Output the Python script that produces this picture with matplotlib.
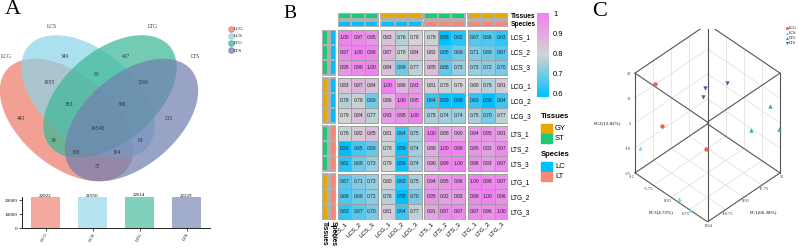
import numpy as np
import matplotlib
matplotlib.use("Agg")
import matplotlib.pyplot as plt
from matplotlib.patches import Ellipse, Rectangle
from matplotlib.colors import LinearSegmentedColormap, ListedColormap, Normalize
from matplotlib.lines import Line2D
from matplotlib.transforms import ScaledTranslation
import matplotlib.cm as cm
from mpl_toolkits.mplot3d import proj3d

W, H = 798, 248
SERIF = "Liberation Serif"
SANS = "Liberation Sans"

# ---- panel A data
sets = ["LCG", "LCS", "LTG", "LTS"]
set_colors = ["#EE7B6A", "#8ED4E8", "#3DB897", "#7180B0"]
set_totals = [22022, 21950, 22614, 22229]
# order: LCG, LCS, LTG, LTS only; LCG&LCS; LCS&LTG; LTG&LTS; LCG&LCS&LTG; LCS&LTG&LTS;
# all; LCG&LTG; LCS&LTS; LCG&LTG&LTS; LCG&LCS&LTS; LCG&LTS
venn_counts = [443, 349, 417, 215, 1955, 80, 2366, 383, 388, 10548, 54, 63, 388, 194, 57]

# ---- panel B data
samples = ["LCS_1", "LCS_2", "LCS_3", "LCG_1", "LCG_2", "LCG_3",
           "LTS_1", "LTS_2", "LTS_3", "LTG_1", "LTG_2", "LTG_3"]
tissues = ["ST"] * 3 + ["GY"] * 3 + ["ST"] * 3 + ["GY"] * 3
species = ["LC"] * 6 + ["LT"] * 6
corr = np.array([
    [1.00, 0.97, 0.95, 0.83, 0.76, 0.79, 0.78, 0.58, 0.62, 0.67, 0.66, 0.63],
    [0.97, 1.00, 0.98, 0.87, 0.78, 0.84, 0.82, 0.65, 0.69, 0.71, 0.69, 0.67],
    [0.95, 0.98, 1.00, 0.84, 0.69, 0.77, 0.85, 0.68, 0.73, 0.73, 0.72, 0.70],
    [0.83, 0.87, 0.84, 1.00, 0.86, 0.93, 0.81, 0.78, 0.79, 0.80, 0.76, 0.81],
    [0.76, 0.78, 0.69, 0.86, 1.00, 0.95, 0.64, 0.59, 0.59, 0.63, 0.58, 0.64],
    [0.79, 0.84, 0.77, 0.93, 0.95, 1.00, 0.75, 0.74, 0.74, 0.75, 0.70, 0.77],
    [0.78, 0.82, 0.85, 0.81, 0.64, 0.75, 1.00, 0.88, 0.90, 0.94, 0.95, 0.91],
    [0.58, 0.65, 0.68, 0.78, 0.59, 0.74, 0.88, 1.00, 0.99, 0.95, 0.92, 0.97],
    [0.62, 0.69, 0.73, 0.79, 0.59, 0.74, 0.90, 0.99, 1.00, 0.96, 0.93, 0.97],
    [0.67, 0.71, 0.73, 0.80, 0.63, 0.75, 0.94, 0.95, 0.96, 1.00, 0.98, 0.97],
    [0.66, 0.69, 0.72, 0.76, 0.58, 0.70, 0.95, 0.92, 0.93, 0.98, 1.00, 0.96],
    [0.63, 0.67, 0.70, 0.81, 0.64, 0.77, 0.91, 0.97, 0.97, 0.97, 0.96, 1.00],
])

# ---- panel C data
pca_groups = ["LCG", "LCS", "LTG", "LTS"]
pca_colors = ["#F0624F", "#7FD3EA", "#2BB592", "#4F5F9A"]
pca_markers = ["o", "^", "^", "v"]
pc1 = [[-21.9, -22.1, -7.8], [-30.5, -33.3, -33.7], [32.2, 28.1, 35.0], [11.5, 6.4, 25.8]]
pc2 = [[13.3, -3.4, -9.3], [-14.6, -23.6, -25.0], [3.8, -9.9, -5.3], [5.2, 3.8, 5.2]]
pc3 = [[-9.5, -7.0, 3.0], [-11.5, 3.0, 7.0], [10.5, 5.5, 12.65], [-4.5, -3.25, -2.0]]
pc1_ticks = [-34, -16.75, 0.50, 17.75, 35]
pc2_ticks = [-25, -13.75, -2.50, 8.75, 20]
pc3_ticks = [-12, -5.75, 0.50, 6.75, 13]
pc1_labels = ["-34", "-16.75", "0.50", "17.75", "35"]
pc2_labels = ["-25", "-10", "5", "15", "20"]
pc3_labels = ["-12", "-5.75", "0.50", "6.75", "13"]


def rect(x0, y0, x1, y1):
    return [x0 / W, 1 - y1 / H, (x1 - x0) / W, (y1 - y0) / H]


fig = plt.figure(figsize=(W / 100, H / 100), dpi=100)

# ================= A: venn
ax = fig.add_axes(rect(0, 0, 270, 190))
ax.set_xlim(0, 270)
ax.set_ylim(190, 0)
ax.axis("off")
ell_centers = [(66.5, 120), (88, 96.5), (110, 96.5), (131.5, 120)]
ell_angles = [40, 40, -40, -40]
for c, (cx, cy), ang in zip(set_colors, ell_centers, ell_angles):
    ax.add_patch(Ellipse((cx, cy), 156, 92, angle=ang, facecolor=c, alpha=0.72, lw=0))
venn_pos = [(20.7, 118), (65, 57), (125.7, 57), (169.3, 118), (49.3, 83), (96.7, 75),
            (143.3, 83), (69.3, 105), (121.7, 105), (97.3, 129), (53.3, 140), (140.7, 140),
            (76, 153), (116.7, 153), (97.3, 166)]
for n, (x, y) in zip(venn_counts, venn_pos):
    ax.text(x, y, str(n), ha="center", va="center", fontsize=4, family=SERIF, color="#333333")
set_label_pos = [(6.7, 57), (51.7, 27), (152.7, 27), (195.7, 57)]
for s, (x, y) in zip(sets, set_label_pos):
    ax.text(x, y, s, ha="center", va="center", fontsize=4, family=SERIF, color="#333333")
handles = [Line2D([], [], marker="o", ls="", color=c, alpha=0.72, markersize=3.8) for c in set_colors]
ax.legend(handles, sets, loc="upper left", bbox_to_anchor=(226 / 270, 1 - 25 / 190),
          frameon=False, prop={"family": SERIF, "size": 3.5}, handletextpad=0.1,
          labelspacing=0.55, handlelength=1.2, borderaxespad=0)

fig.text(5 / W, 1 - 10 / H, "A", fontsize=16, family=SERIF, va="center")

# ================= A: bar chart
bx = fig.add_axes(rect(22, 196.5, 210, 228))
xs = np.arange(len(sets))
bx.bar(xs, set_totals, width=0.6, color=set_colors, alpha=0.65)
for x, v in zip(xs, set_totals):
    bx.text(x, v - 400, str(v), ha="center", va="bottom", fontsize=3.6, family=SERIF)
bx.set_xlim(-0.5, 3.5)
bx.set_ylim(0, 22614)
bx.set_yticks([0, 10000, 20000])
bx.set_xticks(xs)
bx.set_xticklabels(sets, rotation=60, ha="right", rotation_mode="anchor")
for lab in bx.get_xticklabels() + bx.get_yticklabels():
    lab.set_family(SERIF)
    lab.set_fontsize(3.6)
bx.tick_params(length=2, width=0.5, pad=1)
for s in ["top", "right"]:
    bx.spines[s].set_visible(False)
for s in ["left", "bottom"]:
    bx.spines[s].set_linewidth(0.6)

# ================= B: heatmap
cmap = LinearSegmentedColormap.from_list("hm", ["#00BFFF", "#D3D3D3", "#EE82EE"])
vmin, vmax = 0.58, 1.0
gap = 0.2
n = len(samples)
centers = np.array([i + 0.5 + gap * (i // 3) for i in range(n)])

hm = fig.add_axes(rect(338, 29.5, 508, 219.5))
for bi in range(4):
    for bj in range(4):
        xe = np.arange(4) + 3 * bj + gap * bj
        ye = np.arange(4) + 3 * bi + gap * bi
        hm.pcolormesh(xe, ye, corr[3 * bi:3 * bi + 3, 3 * bj:3 * bj + 3], cmap=cmap,
                      vmin=vmin, vmax=vmax, edgecolors="#A0A0A0", linewidth=0.4)
for i in range(n):
    for j in range(n):
        hm.text(centers[j], centers[i], f"{corr[i, j]:.2f}", ha="center", va="center",
                fontsize=3.5, family=SANS, color="#222222")
hm.set_xlim(0, n + 3 * gap)
hm.set_ylim(n + 3 * gap, 0)
for s in hm.spines.values():
    s.set_visible(False)
hm.yaxis.tick_right()
hm.set_yticks(centers)
hm.set_yticklabels(samples, fontsize=4.7, family=SANS)
hm.set_xticks(centers)
hm.set_xticklabels(samples, fontsize=4.5, family=SANS, rotation=45, ha="right",
                   rotation_mode="anchor")
hm.tick_params(axis="y", length=0, pad=2)
hm.tick_params(axis="x", length=0, pad=1)

tis_codes = np.array([0 if t == "GY" else 1 for t in tissues])
sp_codes = np.array([0 if s == "LC" else 1 for s in species])
tis_cmap = ListedColormap(["#E7A800", "#1FC878"])
sp_cmap = ListedColormap(["#00BFFF", "#F8877A"])

# column annotation
ca = fig.add_axes(rect(338, 13, 508, 27))
for bj in range(4):
    xe = np.arange(4) + 3 * bj + gap * bj
    ca.pcolormesh(xe, [0, 1], tis_codes[None, 3 * bj:3 * bj + 3], cmap=tis_cmap, vmin=0, vmax=1,
                  edgecolors="#B0B0B0", linewidth=0.3)
    ca.pcolormesh(xe, [1.33, 2.33], sp_codes[None, 3 * bj:3 * bj + 3], cmap=sp_cmap, vmin=0, vmax=1,
                  edgecolors="#B0B0B0", linewidth=0.3)
ca.set_xlim(0, n + 3 * gap)
ca.set_ylim(2.33, 0)
ca.axis("off")
fig.text(511 / W, 1 - 16 / H, "Tissues", fontsize=4.8, family=SANS, weight="bold", va="center")
fig.text(511 / W, 1 - 24.5 / H, "Species", fontsize=4.8, family=SANS, weight="bold", va="center")

# row annotation
ra = fig.add_axes(rect(322, 29.5, 336, 219.5))
for bi in range(4):
    ye = np.arange(4) + 3 * bi + gap * bi
    ra.pcolormesh([0, 1], ye, tis_codes[3 * bi:3 * bi + 3, None], cmap=tis_cmap, vmin=0, vmax=1,
                  edgecolors="#B0B0B0", linewidth=0.3)
    ra.pcolormesh([1.4, 2.4], ye, sp_codes[3 * bi:3 * bi + 3, None], cmap=sp_cmap, vmin=0, vmax=1,
                  edgecolors="#B0B0B0", linewidth=0.3)
ra.set_ylim(n + 3 * gap, 0)
ra.set_xlim(0, 2.4)
ra.axis("off")
fig.text(324.7 / W, 1 - 221 / H, "Tissues", fontsize=4.8, family=SANS, weight="bold",
         rotation=270, va="top", ha="center")
fig.text(333 / W, 1 - 221 / H, "Species", fontsize=4.8, family=SANS, weight="bold",
         rotation=270, va="top", ha="center")

# colorbar
cax = fig.add_axes(rect(537, 13, 549, 97))
cb = fig.colorbar(cm.ScalarMappable(norm=Normalize(vmin, vmax), cmap=cmap), cax=cax,
                  ticks=[0.6, 0.7, 0.8, 0.9, 1.0])
cb.ax.set_yticklabels(["0.6", "0.7", "0.8", "0.9", "1"])
cb.outline.set_visible(False)
cax.tick_params(length=0, labelsize=5.5, pad=3)
for lab in cax.get_yticklabels():
    lab.set_family(SANS)

# annotation legend
lx = fig.add_axes(rect(535, 105, 600, 190))
lx.set_xlim(535, 600)
lx.set_ylim(190, 105)
lx.axis("off")
lx.text(541, 117, "Tissues", fontsize=5.5, family=SANS, weight="bold", va="center")
for k, (lab, c) in enumerate(zip(["GY", "ST"], tis_cmap.colors)):
    lx.add_patch(Rectangle((541, 124 + 9.5 * k), 11, 9.5, color=c))
    lx.text(555, 128.75 + 9.5 * k, lab, fontsize=5.5, family=SANS, va="center")
lx.text(541, 155, "Species", fontsize=5.5, family=SANS, weight="bold", va="center")
for k, (lab, c) in enumerate(zip(["LC", "LT"], sp_cmap.colors)):
    lx.add_patch(Rectangle((541, 162 + 9.5 * k), 11, 9.5, color=c))
    lx.text(555, 166.75 + 9.5 * k, lab, fontsize=5.5, family=SANS, va="center")

fig.text(283 / W, 1 - 13 / H, "B", fontsize=14, family=SERIF, va="center")

# ================= C: 3D PCA
p3 = fig.add_axes(rect(610, 20, 810, 220), projection="3d")
p3.set_proj_type("ortho")
p3.view_init(elev=42.5, azim=-45)
p3.set_box_aspect((1, 1, 1.32))
xlo, xhi = pc3_ticks[0], pc3_ticks[-1]
ylo, yhi = pc1_ticks[0], pc1_ticks[-1]
zlo, zhi = pc2_ticks[0], pc2_ticks[-1]
p3.set_xlim(xlo, xhi)
p3.set_ylim(ylo, yhi)
p3.set_zlim(zlo, zhi)
p3.set_axis_off()
p3.patch.set_alpha(0)

gk = dict(color="#DDDDDD", lw=0.5, zorder=0)
for t in pc1_ticks[1:-1]:
    p3.plot([xlo, xlo], [t, t], [zlo, zhi], **gk)
    p3.plot([xlo, xhi], [t, t], [zlo, zlo], **gk)
for t in pc3_ticks[1:-1]:
    p3.plot([t, t], [yhi, yhi], [zlo, zhi], **gk)
    p3.plot([t, t], [ylo, yhi], [zlo, zlo], **gk)
for t in pc2_ticks[1:-1]:
    p3.plot([xlo, xlo], [ylo, yhi], [t, t], **gk)
    p3.plot([xlo, xhi], [yhi, yhi], [t, t], **gk)

ek = dict(color="#555555", lw=0.8)
for a in (xlo, xhi):
    for b in (ylo, yhi):
        p3.plot([a, a], [b, b], [zlo, zhi], **ek)
for a in (xlo, xhi):
    for c in (zlo, zhi):
        p3.plot([a, a], [ylo, yhi], [c, c], **ek)
for b in (ylo, yhi):
    for c in (zlo, zhi):
        p3.plot([xlo, xhi], [b, b], [c, c], **ek)

for g, c, m, a1, a2, a3 in zip(pca_groups, pca_colors, pca_markers, pc1, pc2, pc3):
    p3.scatter(a3, a1, a2, color=c, marker=m, s=10, depthshade=False, label=g, linewidths=0)

# fit the cube onto the target hexagon (upper-left vertex -> lower-right vertex)
fig.canvas.draw()


def proj2d(x, y, z):
    xs, ys, _ = proj3d.proj_transform(x, y, z, p3.get_proj())
    return xs, ys


def to_px(x, y, z):
    return p3.transData.transform(proj2d(x, y, z))


ul = to_px(xlo, ylo, zhi)
lr = to_px(xhi, yhi, zlo)
scale = 145.0 / (lr[0] - ul[0])
cur_c = (ul + lr) / 2
pos = p3.get_position()
pc = np.array([(pos.x0 + pos.x1) / 2 * W, (pos.y0 + pos.y1) / 2 * H])
tgt = np.array([707.5, H - 123.0])
new_c = tgt - (cur_c - pc) * scale
wpx, hpx = pos.width * W * scale, pos.height * H * scale
p3.set_position([(new_c[0] - wpx / 2) / W, (new_c[1] - hpx / 2) / H, wpx / W, hpx / H])


def label3d(x, y, z, s, dx, dy, **kw):
    px, py = proj2d(x, y, z)
    tr = p3.transData + ScaledTranslation(dx / 100, dy / 100, fig.dpi_scale_trans)
    p3.text2D(px, py, s, transform=tr, fontsize=3.2, family=SERIF, color="#333333", **kw)


for t, s in zip(pc2_ticks, pc2_labels):
    label3d(xlo, ylo, t, s, -4, -1, ha="right", va="center")
for t, s in zip(pc3_ticks, pc3_labels):
    label3d(t, ylo, zlo, s, 0, -2, ha="right", va="top")
for t, s in zip(pc1_ticks, pc1_labels):
    label3d(xhi, t, zlo, s, 2, -2, ha="center", va="top")

fig.text(607 / W, 1 - 123 / H, "PC2(12.82%)", fontsize=3.6, family=SERIF, ha="center", va="center")
fig.text(661 / W, 1 - 212 / H, "PC3(4.72%)", fontsize=3.6, family=SERIF, ha="center", va="center")
fig.text(763 / W, 1 - 212 / H, "PC1(66.38%)", fontsize=3.6, family=SERIF, ha="center", va="center")

fig.legend(*p3.get_legend_handles_labels(), loc="upper left", bbox_to_anchor=(783 / W, 1 - 24 / H),
           frameon=False, prop={"family": SERIF, "size": 3}, handletextpad=0.1,
           labelspacing=0.3, markerscale=0.7, borderaxespad=0, handlelength=1)

fig.text(592 / W, 1 - 11 / H, "C", fontsize=16, family=SERIF, va="center")

fig.savefig("out.png", dpi=100)
